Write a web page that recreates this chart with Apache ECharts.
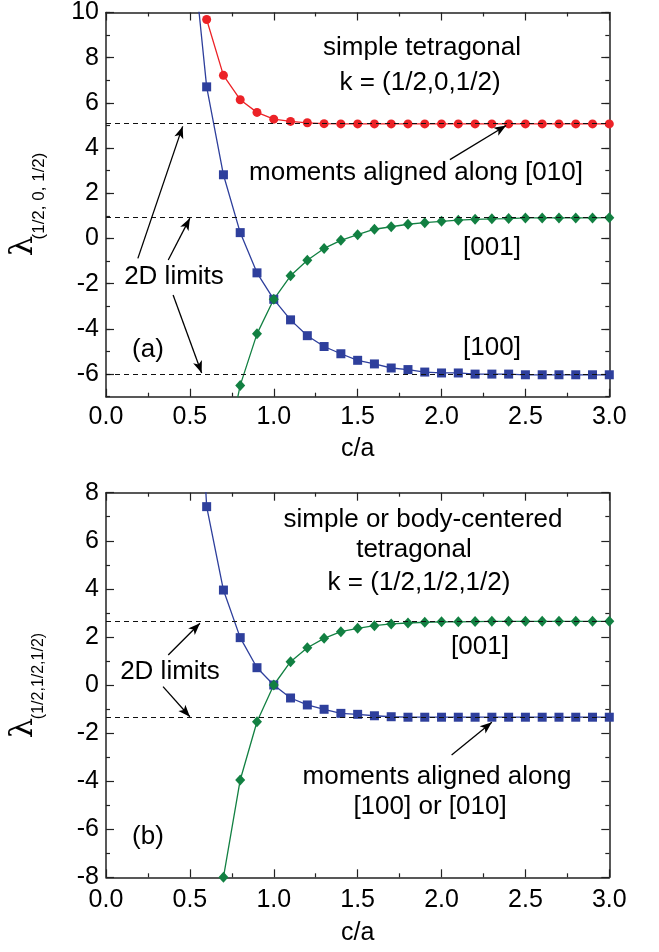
<!DOCTYPE html>
<html><head><meta charset="utf-8">
<script src="https://cdn.jsdelivr.net/npm/echarts@6/dist/echarts.min.js"></script>
<style>html,body{margin:0;padding:0;background:#fff}#c{width:659px;height:952px}</style>
</head><body><div id="c"></div>
<script>
// c/a values (shared by all series)
const cOverA = [0.5,0.6,0.7,0.8,0.9,1.0,1.1,1.2,1.3,1.4,1.5,1.6,1.7,1.8,1.9,2.0,2.1,2.2,2.3,2.4,2.5,2.6,2.7,2.8,2.9,3.0];
// panel (a): k = (1/2,0,1/2)
const a010 = [null,9.69,7.22,6.14,5.58,5.28,5.18,5.12,5.08,5.07,5.07,5.07,5.07,5.07,5.07,5.07,5.07,5.07,5.07,5.07,5.07,5.07,5.07,5.07,5.07,5.07];
const a100 = [14.0,6.71,2.82,0.26,-1.52,-2.69,-3.60,-4.30,-4.78,-5.10,-5.39,-5.55,-5.73,-5.80,-5.91,-5.95,-5.95,-6.00,-6.00,-6.00,-6.03,-6.03,-6.03,-6.03,-6.03,-6.03];
const a001 = [null,-16.4,-10.04,-6.5,-4.22,-2.69,-1.65,-0.96,-0.44,-0.08,0.17,0.41,0.52,0.63,0.70,0.76,0.81,0.85,0.87,0.88,0.91,0.91,0.91,0.91,0.91,0.92];
const aLimits = [5.08, 0.92, -6.0];
// panel (b): k = (1/2,1/2,1/2)
const b100 = [20.0,7.42,3.95,1.97,0.72,0.0,-0.54,-0.83,-1.01,-1.18,-1.22,-1.28,-1.32,-1.34,-1.34,-1.34,-1.34,-1.34,-1.34,-1.34,-1.34,-1.34,-1.34,-1.34,-1.34,-1.34];
const b001 = [null,-14.84,-8.0,-3.95,-1.53,0.0,0.97,1.55,1.94,2.22,2.36,2.47,2.54,2.58,2.61,2.63,2.63,2.64,2.65,2.65,2.65,2.65,2.65,2.65,2.65,2.65];
const bLimits = [2.65, -1.34];
// tick labels
const aYTicks = [-6,-4,-2,0,2,4,6,8,10];
const aYMinor = [-7,-6,-5,-4,-3,-2,-1,0,1,2,3,4,5,6,7,8,9,10];
// annotation arrows (data coordinates: [tail],[head])
const aArrows = [[[0.19,-0.88],[0.457,4.96]],[[0.371,-0.95],[0.50,0.90]],[[0.40,-2.50],[0.57,-5.95]],[[2.05,3.49],[2.385,5.0]]];
const bArrows = [[[0.371,1.25],[0.56,2.57]],[[0.34,-0.07],[0.50,-1.32]],[[2.06,-2.91],[2.30,-1.55]]];

const FONT = 'Liberation Sans, Arial, Helvetica, sans-serif';
const AX = '#222';
const RED = '#ec2227', BLUE = '#2e3f9c', GREEN = '#128042';
const FS = 26, TFS = 25;

function pairs(ys){ const out=[]; ys.forEach((v,i)=>{ if(v!==null) out.push([cOverA[i], v]); }); return out; }

function xAxes(g, nameGap, labelMargin){
  return [
    {gridIndex:g, type:'value', min:0, max:3, interval:0.5, position:'bottom',
     name:'c/a', nameLocation:'middle', nameGap:nameGap,
     nameTextStyle:{fontFamily:FONT, fontSize:TFS, color:'#000'},
     axisLine:{onZero:false, lineStyle:{color:AX, width:1.5}},
     axisTick:{inside:true, length:8, lineStyle:{color:AX, width:1.2}},
     minorTick:{show:true, splitNumber:2, length:4, lineStyle:{color:AX, width:1.2}},
     axisLabel:{fontFamily:FONT, fontSize:TFS, color:'#000', margin:labelMargin, formatter:v=>v.toFixed(1)},
     splitLine:{show:false}},
    {gridIndex:g, type:'value', min:0, max:3, interval:0.5, position:'top',
     axisLine:{onZero:false, lineStyle:{color:AX, width:1.5}},
     axisTick:{inside:true, length:8, lineStyle:{color:AX, width:1.2}},
     minorTick:{show:true, splitNumber:2, length:4, lineStyle:{color:AX, width:1.2}},
     axisLabel:{show:false}, splitLine:{show:false}}
  ];
}

const yAxis = [
  {gridIndex:0, type:'value', min:-7, max:10, position:'left',
   axisLine:{show:true, onZero:false, lineStyle:{color:AX, width:1.5}},
   axisTick:{show:true, inside:true, length:8, customValues:aYTicks, lineStyle:{color:AX, width:1.2}},
   axisLabel:{fontFamily:FONT, fontSize:TFS, color:'#000', margin:7, customValues:aYTicks},
   splitLine:{show:false}},
  {gridIndex:0, type:'value', min:-7, max:10, position:'left',
   axisLine:{show:false, onZero:false},
   axisTick:{show:true, inside:true, length:4, customValues:aYMinor, lineStyle:{color:AX, width:1.2}},
   axisLabel:{show:false}, splitLine:{show:false}},
  {gridIndex:0, type:'value', min:-7, max:10, position:'right',
   axisLine:{show:true, onZero:false, lineStyle:{color:AX, width:1.5}},
   axisTick:{show:true, inside:true, length:8, customValues:aYTicks, lineStyle:{color:AX, width:1.2}},
   axisLabel:{show:false}, splitLine:{show:false}},
  {gridIndex:0, type:'value', min:-7, max:10, position:'right',
   axisLine:{show:false, onZero:false},
   axisTick:{show:true, inside:true, length:4, customValues:aYMinor, lineStyle:{color:AX, width:1.2}},
   axisLabel:{show:false}, splitLine:{show:false}},
  {gridIndex:1, type:'value', min:-8, max:8, interval:2, position:'left',
   axisLine:{show:true, onZero:false, lineStyle:{color:AX, width:1.5}},
   axisTick:{show:true, inside:true, length:8, lineStyle:{color:AX, width:1.2}},
   minorTick:{show:true, splitNumber:2, length:4, lineStyle:{color:AX, width:1.2}},
   axisLabel:{fontFamily:FONT, fontSize:TFS, color:'#000', margin:7},
   splitLine:{show:false}},
  {gridIndex:1, type:'value', min:-8, max:8, interval:2, position:'right',
   axisLine:{show:true, onZero:false, lineStyle:{color:AX, width:1.5}},
   axisTick:{show:true, inside:true, length:8, lineStyle:{color:AX, width:1.2}},
   minorTick:{show:true, splitNumber:2, length:4, lineStyle:{color:AX, width:1.2}},
   axisLabel:{show:false}, splitLine:{show:false}}
];

function limitSeries(xi, yi, vals, arrows){
  return {type:'line', xAxisIndex:xi, yAxisIndex:yi, data:[], silent:true, z:1,
    markLine:{silent:true, animation:false, symbol:['none','none'], label:{show:false},
      lineStyle:{color:'#111', type:[5,4], width:1.2},
      data: vals.map(v=>({yAxis:v})).concat(arrows.map(a=>[
        {coord:a[0], symbol:'none', lineStyle:{type:'solid', width:1.3, color:'#000'}},
        {coord:a[1], symbol:'arrow', symbolSize:[7,12]}
      ]))
    }};
}

function dataSeries(xi, yi, ys, color, symbol, size){
  return {type:'line', xAxisIndex:xi, yAxisIndex:yi, data:pairs(ys), clip:true, z:3,
    symbol:symbol, symbolSize:size, showSymbol:true, animation:false,
    lineStyle:{color:color, width:1.3}, itemStyle:{color:color}};
}

function txt(x, y, s, extra){
  return Object.assign({type:'text', x:x, y:y, silent:true,
    style:{text:s, fontFamily:FONT, fontSize:FS, fill:'#000', align:'center', verticalAlign:'middle'}}, extra||{});
}

const option = {
  animation:false,
  backgroundColor:'#fff',
  grid:[
    {left:106, top:9.6, width:503.3, height:387.1},
    {left:106, top:492.7, width:503.3, height:384.6}
  ],
  xAxis: xAxes(0, 40, 8).concat(xAxes(1, 43, 10)),
  yAxis: yAxis,
  series:[
    limitSeries(0, 0, aLimits, aArrows),
    dataSeries(0, 0, a010, RED, 'circle', 9),
    dataSeries(0, 0, a100, BLUE, 'rect', 9),
    dataSeries(0, 0, a001, GREEN, 'diamond', [10,11]),
    limitSeries(2, 4, bLimits, bArrows),
    dataSeries(2, 4, b100, BLUE, 'rect', 9),
    dataSeries(2, 4, b001, GREEN, 'diamond', [10,11])
  ],
  graphic:[
    txt(422, 48, 'simple tetragonal'),
    txt(420, 83, 'k = (1/2,0,1/2)'),
    txt(416, 173, 'moments aligned along [010]'),
    txt(492, 248, '[001]'),
    txt(492, 348, '[100]'),
    txt(148, 350, '(a)'),
    txt(174, 277, '2D limits'),
    txt(423, 520, 'simple or body-centered'),
    txt(414, 550, 'tetragonal'),
    txt(419, 583, 'k = (1/2,1/2,1/2)'),
    txt(480, 647, '[001]'),
    txt(437, 777, 'moments aligned along'),
    txt(430, 807, '[100] or [010]'),
    txt(148, 837, '(b)'),
    txt(170, 672, '2D limits'),
    txt(24, 246, 'λ', {rotation:Math.PI/2, style:{text:'λ', fontFamily:'DejaVu Serif, serif', fontSize:32, fill:'#000', align:'center', verticalAlign:'middle'}}),
    txt(39, 196, '(1/2, 0, 1/2)', {rotation:Math.PI/2, style:{text:'(1/2, 0, 1/2)', fontFamily:FONT, fontSize:17, fill:'#000', align:'center', verticalAlign:'middle'}}),
    txt(24, 728, 'λ', {rotation:Math.PI/2, style:{text:'λ', fontFamily:'DejaVu Serif, serif', fontSize:32, fill:'#000', align:'center', verticalAlign:'middle'}}),
    txt(39, 676, '(1/2,1/2,1/2)', {rotation:Math.PI/2, style:{text:'(1/2,1/2,1/2)', fontFamily:FONT, fontSize:16, fill:'#000', align:'center', verticalAlign:'middle'}})
  ]
};
const chart = echarts.init(document.getElementById('c'), null, {renderer:'canvas'});
chart.setOption(option);
</script></body></html>
